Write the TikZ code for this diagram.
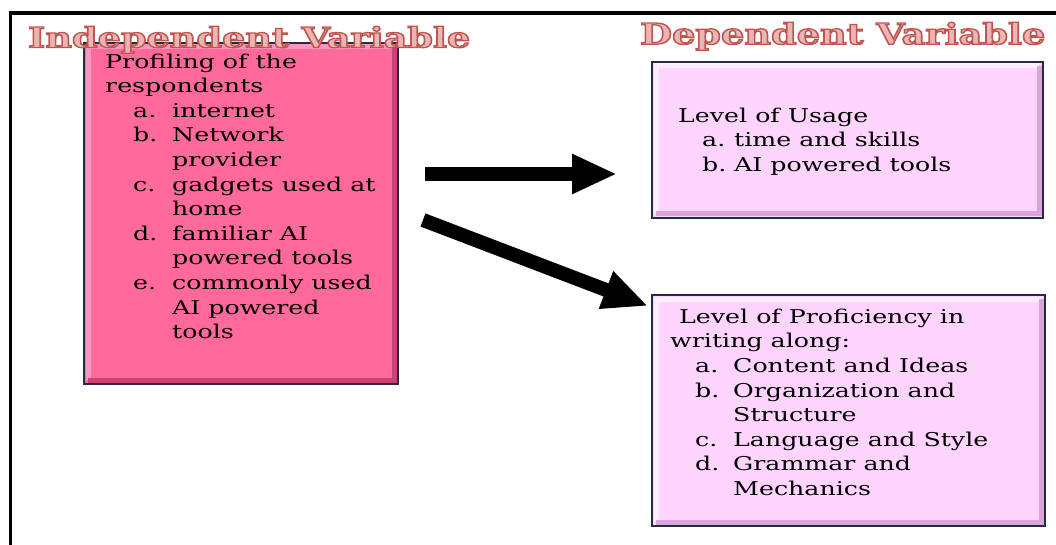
\documentclass[tikz,border=0pt]{standalone}
\usepackage{fontspec}
\setmainfont{DejaVu Serif}[FakeStretch=1.33]
\newfontfamily\titlefont{DejaVu Serif Bold}[FakeBold=4.5]
\usetikzlibrary{arrows.meta}
\definecolor{titlefill}{RGB}{233,182,180}
\definecolor{titleedge}{RGB}{192,84,80}
\definecolor{pinkfill}{RGB}{255,105,155}
\definecolor{pinklight}{RGB}{255,150,190}
\definecolor{pinkdark}{RGB}{205,65,115}
\definecolor{lavfill}{RGB}{255,213,255}
\definecolor{lavlight}{RGB}{255,236,255}
\definecolor{lavdark}{RGB}{218,165,218}
\definecolor{boxedge}{RGB}{35,45,65}
\newcommand\myitem[4]{\hspace*{#1pt}\makebox[#2pt][l]{#3}#4}
\newcommand\mycont[2]{\hspace*{#1pt}#2}
\newcommand\outlined[1]{{\color{titlefill}\special{pdf:code 0.753 0.329 0.314 RG}\titlefont #1}}
\tikzset{
  varbox/.style={draw=boxedge, line width=2.5pt, rectangle, outer sep=0pt, inner sep=0pt},
  bodytext/.style={anchor=north west, inner sep=0pt, align=left, text=black,
    font=\fontsize{19pt}{24.6pt}\selectfont},
  bigarrow/.style={line width=14pt, -{Triangle[length=45pt,width=37pt]}},
  frameline/.style={line width=3.5pt, black},
  titletext/.style={anchor=north west, inner sep=0pt}
}
\begin{document}
\begin{tikzpicture}[x=1pt,y=-1pt]
\useasboundingbox (0,0) rectangle (1056,545);
% frame
\coordinate (ftl) at (10.5,13);
\coordinate (ftr) at (1070,13);
\coordinate (fbl) at (10.5,560);
\draw[frameline] (ftr) -- (ftl) -- (fbl);

% boxes
\node[varbox, fill=pinkfill, minimum width=314pt, minimum height=341pt] (indepbox) at (241,213.5) {};
\node[varbox, fill=lavfill, minimum width=391pt, minimum height=156pt] (usage) at (847.5,140) {};
\node[varbox, fill=lavfill, minimum width=393pt, minimum height=231pt] (prof) at (848.5,410.5) {};

% bevels
\foreach \b/\lc/\dc in {indepbox/pinklight/pinkdark, usage/lavlight/lavdark, prof/lavlight/lavdark}{
  \draw[\lc, line width=5pt]
    ([xshift=4pt,yshift=4pt]\b.south west) -- ([xshift=4pt,yshift=-4pt]\b.north west) -- ([xshift=-4pt,yshift=-4pt]\b.north east);
  \draw[\dc, line width=5pt]
    ([xshift=-4pt,yshift=-4pt]\b.north east) -- ([xshift=-4pt,yshift=4pt]\b.south east) -- ([xshift=4pt,yshift=4pt]\b.south west);
}

% titles
\node[titletext] (indeptitle) at (28,26)
  {\resizebox*{442pt}{27pt}{\outlined{Independent Variable}}};
\node[titletext] (deptitle) at (640,22)
  {\resizebox*{405pt}{28pt}{\outlined{Dependent Variable}}};

% texts
\node[bodytext] (indeptext) at (105,53.5) {Profiling of the\\
respondents\\
\myitem{28}{39}{a.}{internet}\\
\myitem{28}{39}{b.}{Network}\\
\mycont{67}{provider}\\
\myitem{28}{39}{c.}{gadgets used at}\\
\mycont{67}{home}\\
\myitem{28}{39}{d.}{familiar AI}\\
\mycont{67}{powered tools}\\
\myitem{28}{39}{e.}{commonly used}\\
\mycont{67}{AI powered}\\
\mycont{67}{tools}};

\node[bodytext] (usagetext) at (678,107.6) {Level of Usage\\
\myitem{24}{32}{a.}{time and skills}\\
\myitem{24}{32}{b.}{AI powered tools}};

\node[bodytext] (proftext) at (670,308.6) {\hspace*{9pt}Level of Proficiency in\\
writing along:\\
\myitem{25}{38}{a.}{Content and Ideas}\\
\myitem{25}{38}{b.}{Organization and}\\
\mycont{63}{Structure}\\
\myitem{25}{38}{c.}{Language and Style}\\
\myitem{25}{38}{d.}{Grammar and}\\
\mycont{63}{Mechanics}};

% arrows
\coordinate (a1s) at (425,174);
\coordinate (a1e) at (617,174);
\coordinate (a2s) at (423,220);
\coordinate (a2e) at (648,306);
\draw[bigarrow] (a1s) -- (a1e);
\draw[bigarrow] (a2s) -- (a2e);
\end{tikzpicture}
\end{document}
